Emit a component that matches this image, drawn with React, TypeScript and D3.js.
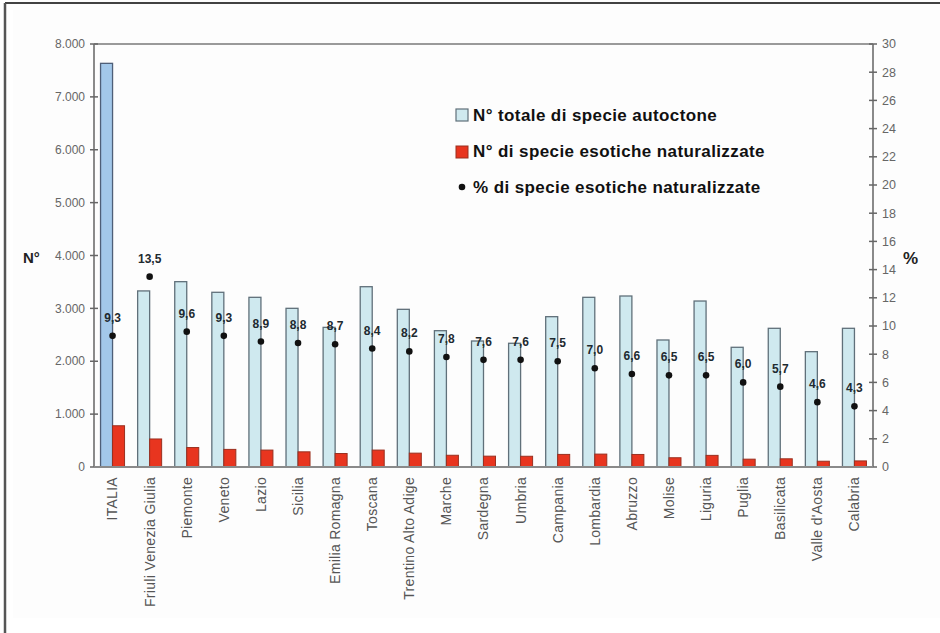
import React from 'react';
import * as d3 from 'd3';

// Regions (ITALIA first)
const regions = [
  'ITALIA', 'Friuli Venezia Giulia', 'Piemonte', 'Veneto', 'Lazio', 'Sicilia',
  'Emilia Romagna', 'Toscana', 'Trentino Alto Adige', 'Marche', 'Sardegna',
  'Umbria', 'Campania', 'Lombardia', 'Abruzzo', 'Molise', 'Liguria', 'Puglia',
  'Basilicata', "Valle d'Aosta", 'Calabria'
];
const autoctone = [
  7634, 3330, 3505, 3304, 3209, 3001, 2641, 3410, 2982, 2578, 2383,
  2340, 2843, 3209, 3234, 2402, 3139, 2264, 2623, 2181, 2623
];
const esotiche = [
  780, 530, 368, 333, 320, 287, 255, 320, 262, 222, 205,
  203, 238, 244, 237, 175, 220, 148, 155, 109, 115
];
const percent = [
  9.3, 13.5, 9.6, 9.3, 8.9, 8.8, 8.7, 8.4, 8.2, 7.8, 7.6,
  7.6, 7.5, 7.0, 6.6, 6.5, 6.5, 6.0, 5.7, 4.6, 4.3
];
const leftTicks = [0, 1000, 2000, 3000, 4000, 5000, 6000, 7000, 8000];
const rightTicks = d3.range(0, 31, 2);
const legendItems = [
  'N° totale di specie autoctone',
  'N° di specie esotiche naturalizzate',
  '% di specie esotiche naturalizzate'
];

const W = 940;
const H = 633;
const plot = { left: 94, right: 873, top: 44, bottom: 467 };
const font = 'Arial, "Liberation Sans", sans-serif';

const App: React.FC = () => {
  const x = d3.scaleBand<string>().domain(regions).range([plot.left, plot.right]);
  const yL = d3.scaleLinear().domain([0, 8000]).range([plot.bottom, plot.top]);
  const yR = d3.scaleLinear().domain([0, 30]).range([plot.bottom, plot.top]);
  const barW = 12;
  const fmtL = (v: number) => (v === 0 ? '0' : d3.format(',')(v).replace(/,/g, '.'));
  const fmtP = (v: number) => v.toFixed(1).replace('.', ',');
  const cx = (r: string) => (x(r) as number) + x.bandwidth() / 2;
  const diamond = d3.symbol().type(d3.symbolCircle).size(34)();

  return (
    <div style={{ position: 'fixed', left: 0, top: 0, width: W, height: H, background: '#fff' }}>
      <svg width={W} height={H} style={{ display: 'block', fontFamily: font }}>
        <rect x={0} y={0} width={W} height={H} fill="#ffffff" />
        <rect x={13} y={10} width={W - 13} height={608} fill="#fdfdfd" />
        {/* outer frame */}
        <line x1={5} x2={W} y1={3} y2={3} stroke="#444" strokeWidth={2} />
        <line x1={5} x2={5} y1={3} y2={H} stroke="#555" strokeWidth={2.5} />

        {/* plot frame top */}
        <line x1={plot.left} x2={plot.right} y1={plot.top} y2={plot.top} stroke="#9a9a9a" strokeWidth={2} />

        {/* bars */}
        {regions.map((r, i) => (
          <g key={r}>
            <rect
              x={cx(r) - barW}
              y={yL(autoctone[i])}
              width={barW}
              height={plot.bottom - yL(autoctone[i])}
              fill={i === 0 ? '#a3c8ea' : '#cfe9ef'}
              stroke={i === 0 ? '#4f5f78' : '#60707a'}
              strokeWidth={1.3}
            />
            <rect
              x={cx(r)}
              y={yL(esotiche[i])}
              width={barW}
              height={plot.bottom - yL(esotiche[i])}
              fill="#e8351f"
              stroke="#9a3020"
              strokeWidth={1}
            />
          </g>
        ))}

        {/* percentage points and labels */}
        {regions.map((r, i) => (
          <g key={'p' + r}>
            <path d={diamond as string} transform={`translate(${cx(r)},${yR(percent[i])})`} fill="#111" />
            <text
              x={cx(r)}
              y={yR(percent[i]) - 14}
              textAnchor="middle"
              fontSize={12}
              fontWeight="bold"
              fill="#1e2a30"
            >
              {fmtP(percent[i])}
            </text>
          </g>
        ))}

        {/* left axis */}
        <line x1={plot.left} x2={plot.left} y1={plot.top} y2={plot.bottom} stroke="#8a8a8a" strokeWidth={2} />
        {leftTicks.map(t => (
          <g key={'l' + t}>
            <line x1={plot.left - 4} x2={plot.left + 4} y1={yL(t)} y2={yL(t)} stroke="#666" strokeWidth={1.5} />
            <text x={plot.left - 9} y={yL(t)} dy="0.35em" textAnchor="end" fontSize={12} fill="#666">
              {fmtL(t)}
            </text>
          </g>
        ))}

        {/* right axis */}
        <line x1={plot.right} x2={plot.right} y1={plot.top} y2={plot.bottom} stroke="#8a8a8a" strokeWidth={2} />
        {rightTicks.map(t => (
          <g key={'r' + t}>
            <line x1={plot.right - 4} x2={plot.right + 4} y1={yR(t)} y2={yR(t)} stroke="#666" strokeWidth={1.5} />
            <text x={plot.right + 9} y={yR(t)} dy="0.35em" textAnchor="start" fontSize={12.5} fill="#666">
              {t}
            </text>
          </g>
        ))}

        {/* x axis */}
        <line x1={plot.left} x2={plot.right} y1={plot.bottom} y2={plot.bottom} stroke="#8a8a8a" strokeWidth={2} />
        {regions.map(r => (
          <text
            key={'x' + r}
            transform={`translate(${cx(r)},${plot.bottom + 10}) rotate(-90)`}
            textAnchor="end"
            dy="0.35em"
            fontSize={14}
            letterSpacing={0.3}
            fill="#555"
          >
            {r}
          </text>
        ))}

        {/* axis titles */}
        <text x={23} y={258} dy="0.35em" fontSize={15} fontWeight="bold" fill="#222">N°</text>
        <text x={903} y={258} dy="0.35em" fontSize={17} fontWeight="bold" fill="#222">%</text>

        {/* legend */}
        <g>
          <rect x={456} y={109} width={12} height={12} fill="#cfe9ef" stroke="#60707a" strokeWidth={1.2} />
          <rect x={456} y={146} width={12} height={12} fill="#e8351f" stroke="#9a3020" strokeWidth={1} />
          <path d={diamond as string} transform="translate(462,187)" fill="#111" />
          {legendItems.map((t, i) => (
            <text
              key={t}
              x={473}
              y={115 + i * 36}
              dy="0.35em"
              fontSize={17}
              letterSpacing={0.4}
              fontWeight="bold"
              fill="#111"
            >
              {t}
            </text>
          ))}
        </g>
      </svg>
    </div>
  );
};

export default App;
